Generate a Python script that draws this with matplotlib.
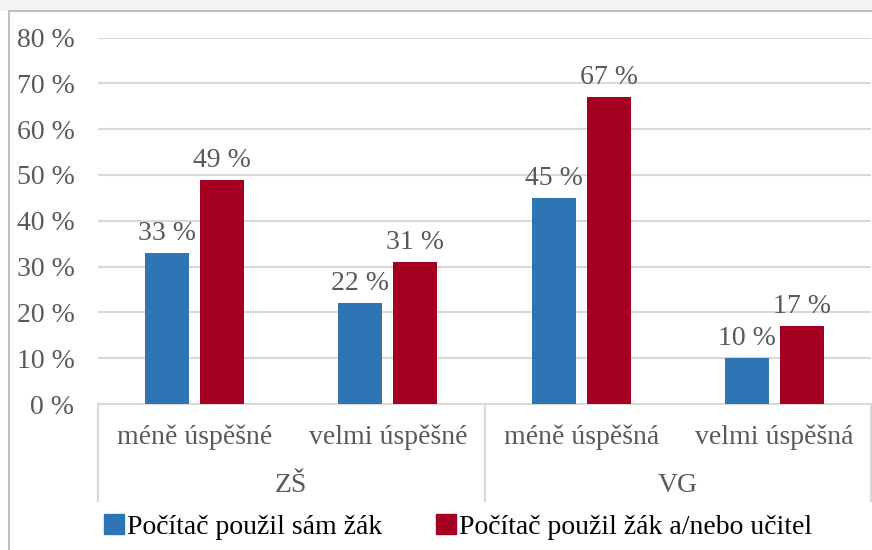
import matplotlib
matplotlib.use("Agg")
import matplotlib.pyplot as plt
from matplotlib.patches import Rectangle
from matplotlib.lines import Line2D
import numpy as np

plt.rcParams['font.family'] = ['Liberation Serif', 'DejaVu Serif']

groups = ["ZŠ", "VG"]
categories = ["méně úspěšné", "velmi úspěšné", "méně úspěšná", "velmi úspěšná"]
series_names = ["Počítač použil sám žák", "Počítač použil žák a/nebo učitel"]
sam_zak = [33, 22, 45, 10]
zak_ucitel = [49, 31, 67, 17]
yticks = [0, 10, 20, 30, 40, 50, 60, 70, 80]
ytick_labels = [f"{v} %" for v in yticks]

blue = "#2E75B6"
red = "#A50021"
grey_txt = "#595959"
fs = 20

W, H = 872, 550
fig = plt.figure(figsize=(W / 100, H / 100), dpi=100)

# background strip and border
fig.patches.append(Rectangle((0, 1 - 11 / H), 1, 11 / H, transform=fig.transFigure,
                             facecolor="#F3F3F3", edgecolor="none", zorder=0))
fig.lines.append(Line2D([8.5 / W, 8.5 / W], [0, 1 - 11 / H], transform=fig.transFigure,
                        color="#BFBFBF", lw=1.5))
fig.lines.append(Line2D([8.5 / W, 1], [1 - 11 / H, 1 - 11 / H], transform=fig.transFigure,
                        color="#BFBFBF", lw=1.5))

left, right = 98 / W, 871 / W
top, bottom = 1 - 37.5 / H, 1 - 404 / H
ax = fig.add_axes([left, bottom, right - left, top - bottom])

x = np.arange(len(categories))
bw = 0.228
off = 0.142
b1 = ax.bar(x - off, sam_zak, bw, color=blue, zorder=3)
b2 = ax.bar(x + off, zak_ucitel, bw, color=red, zorder=3)
for bars, vals in ((b1, sam_zak), (b2, zak_ucitel)):
    for rect, v in zip(bars, vals):
        ax.annotate(f"{v} %", (rect.get_x() + rect.get_width() / 2, v),
                    xytext=(0, 5), textcoords="offset points", ha="center", va="bottom",
                    fontsize=fs, color=grey_txt)

ax.set_xlim(-0.5, len(categories) - 0.5)
ax.set_ylim(0, 80)
ax.set_yticks(yticks)
ax.set_yticklabels(ytick_labels, fontsize=fs, color=grey_txt)
ax.tick_params(axis="y", length=0, pad=17)
ax.set_xticks([])
for s in ("left", "right", "top"):
    ax.spines[s].set_visible(False)
ax.spines["bottom"].set_color("#D9D9D9")
ax.spines["bottom"].set_linewidth(1.5)
ax.grid(axis="y", color="#D9D9D9", lw=1.5, zorder=0)
ax.set_axisbelow(True)

# category labels
ph = 404 - 37.5
trans = ax.get_xaxis_transform()
for i, c in enumerate(categories):
    ax.text(i, -33 / ph, c, transform=trans, ha="center", va="center",
            fontsize=fs, color=grey_txt)
for g_i, g in enumerate(groups):
    ax.text(2 * g_i + 0.5, -81 / ph, g, transform=trans, ha="center", va="center",
            fontsize=fs, color=grey_txt)
sep_bottom = -97 / ph
for xs in (-0.5, 1.5, 3.5):
    ax.plot([xs, xs], [0, sep_bottom], transform=trans, color="#D9D9D9", lw=1.5,
            clip_on=False)

# legend
handles = [Rectangle((0, 0), 1, 1, color=blue), Rectangle((0, 0), 1, 1, color=red)]
fig.legend(handles, series_names, loc="center", bbox_to_anchor=(458 / W, 1 - 527 / H),
           ncol=2, frameon=False, fontsize=fs, handlelength=0.72, handleheight=0.72,
           handletextpad=0.1, columnspacing=1.95, borderaxespad=0, borderpad=0)

fig.savefig("out.png", dpi=100)
